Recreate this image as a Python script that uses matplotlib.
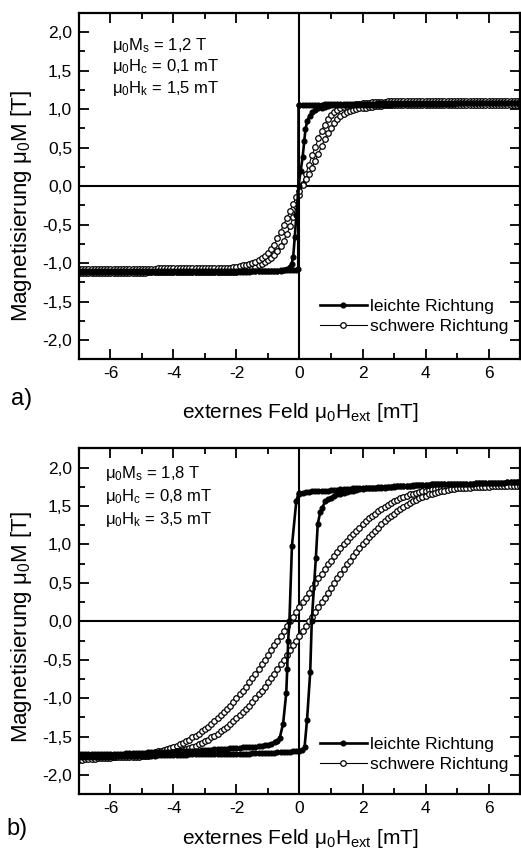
import numpy as np
import matplotlib
matplotlib.use('Agg')
import matplotlib.pyplot as plt
from matplotlib.ticker import MultipleLocator, FuncFormatter

plt.rcParams['font.family'] = ['Liberation Sans', 'DejaVu Sans']
plt.rcParams['mathtext.default'] = 'regular'

# field sweep [mT]
H = [-7.0, -6.9, -6.8, -6.7, -6.6, -6.5, -6.4, -6.3, -6.2, -6.1,
     -6.0, -5.9, -5.8, -5.7, -5.6, -5.5, -5.4, -5.3, -5.2, -5.1,
     -5.0, -4.9, -4.8, -4.7, -4.6, -4.5, -4.4, -4.3, -4.2, -4.1,
     -4.0, -3.9, -3.8, -3.7, -3.6, -3.5, -3.4, -3.3, -3.2, -3.1,
     -3.0, -2.9, -2.8, -2.7, -2.6, -2.5, -2.4, -2.3, -2.2, -2.1,
     -2.0, -1.9, -1.8, -1.7, -1.6, -1.5, -1.4, -1.3, -1.2, -1.1,
     -1.0, -0.9, -0.8, -0.7, -0.6, -0.5, -0.4, -0.3, -0.2, -0.1,
     0.0, 0.1, 0.2, 0.3, 0.4, 0.5, 0.6, 0.7, 0.8, 0.9,
     1.0, 1.1, 1.2, 1.3, 1.4, 1.5, 1.6, 1.7, 1.8, 1.9,
     2.0, 2.1, 2.2, 2.3, 2.4, 2.5, 2.6, 2.7, 2.8, 2.9,
     3.0, 3.1, 3.2, 3.3, 3.4, 3.5, 3.6, 3.7, 3.8, 3.9,
     4.0, 4.1, 4.2, 4.3, 4.4, 4.5, 4.6, 4.7, 4.8, 4.9,
     5.0, 5.1, 5.2, 5.3, 5.4, 5.5, 5.6, 5.7, 5.8, 5.9,
     6.0, 6.1, 6.2, 6.3, 6.4, 6.5, 6.6, 6.7, 6.8, 6.9,
     7.0]

# ---- a) hard direction, two branches on H
a_hard_1 = [-1.13, -1.13, -1.13, -1.13, -1.13, -1.13, -1.13, -1.13, -1.13, -1.13,
            -1.13, -1.13, -1.13, -1.13, -1.13, -1.13, -1.13, -1.13, -1.13, -1.13,
            -1.13, -1.13, -1.12, -1.12, -1.12, -1.12, -1.12, -1.12, -1.12, -1.12,
            -1.12, -1.12, -1.12, -1.12, -1.12, -1.12, -1.12, -1.12, -1.12, -1.12,
            -1.12, -1.12, -1.12, -1.12, -1.12, -1.12, -1.11, -1.11, -1.11, -1.11,
            -1.11, -1.10, -1.09, -1.08, -1.07, -1.06, -1.05, -1.03, -1.01, -0.99,
            -0.96, -0.93, -0.89, -0.84, -0.78, -0.71, -0.62, -0.52, -0.40, -0.26,
            -0.11, 0.03, 0.16, 0.28, 0.40, 0.51, 0.62, 0.72, 0.80, 0.87,
            0.92, 0.96, 0.99, 1.01, 1.03, 1.04, 1.05, 1.06, 1.07, 1.07,
            1.08, 1.08, 1.08, 1.09, 1.09, 1.09, 1.09, 1.09, 1.10, 1.10,
            1.10, 1.10, 1.10, 1.10, 1.10, 1.10, 1.10, 1.10, 1.10, 1.10,
            1.10, 1.10, 1.10, 1.10, 1.10, 1.10, 1.10, 1.10, 1.10, 1.10,
            1.10, 1.10, 1.11, 1.11, 1.11, 1.11, 1.11, 1.11, 1.11, 1.11,
            1.11, 1.11, 1.11, 1.11, 1.11, 1.11, 1.11, 1.11, 1.11, 1.11,
            1.11]
a_hard_2 = [-1.08, -1.08, -1.08, -1.08, -1.08, -1.08, -1.08, -1.08, -1.08, -1.08,
            -1.08, -1.08, -1.08, -1.08, -1.08, -1.08, -1.08, -1.08, -1.08, -1.08,
            -1.08, -1.08, -1.08, -1.08, -1.08, -1.07, -1.07, -1.07, -1.07, -1.07,
            -1.07, -1.07, -1.07, -1.07, -1.07, -1.07, -1.07, -1.07, -1.07, -1.07,
            -1.07, -1.07, -1.07, -1.07, -1.07, -1.07, -1.07, -1.06, -1.06, -1.05,
            -1.05, -1.04, -1.03, -1.02, -1.01, -1.00, -0.98, -0.96, -0.94, -0.91,
            -0.87, -0.82, -0.76, -0.68, -0.59, -0.50, -0.41, -0.32, -0.23, -0.14,
            -0.06, 0.02, 0.09, 0.16, 0.24, 0.33, 0.42, 0.52, 0.61, 0.69,
            0.76, 0.82, 0.87, 0.91, 0.94, 0.96, 0.98, 0.99, 1.00, 1.01,
            1.02, 1.02, 1.03, 1.03, 1.04, 1.04, 1.04, 1.05, 1.05, 1.05,
            1.05, 1.05, 1.05, 1.05, 1.05, 1.05, 1.05, 1.05, 1.05, 1.05,
            1.05, 1.05, 1.05, 1.05, 1.05, 1.06, 1.06, 1.06, 1.06, 1.06,
            1.06, 1.06, 1.06, 1.06, 1.06, 1.06, 1.06, 1.06, 1.06, 1.06,
            1.06, 1.06, 1.06, 1.06, 1.06, 1.06, 1.06, 1.06, 1.06, 1.06,
            1.06]

# ---- a) easy direction
a_easy_dn_x = H[0:70] + [-0.04, -0.03] + H[70:]
a_easy_dn_y = [-1.10, -1.10, -1.10, -1.10, -1.10, -1.10, -1.10, -1.10, -1.10, -1.10,
               -1.10, -1.10, -1.10, -1.10, -1.10, -1.10, -1.10, -1.10, -1.10, -1.10,
               -1.10, -1.10, -1.10, -1.10, -1.10, -1.10, -1.10, -1.10, -1.10, -1.10,
               -1.10, -1.10, -1.10, -1.10, -1.10, -1.10, -1.10, -1.10, -1.10, -1.10,
               -1.10, -1.10, -1.10, -1.10, -1.10, -1.10, -1.10, -1.10, -1.10, -1.10,
               -1.10, -1.10, -1.10, -1.10, -1.10, -1.10, -1.10, -1.10, -1.10, -1.10,
               -1.10, -1.10, -1.10, -1.10, -1.10, -1.09, -1.09, -1.09, -1.09, -1.09,
               -1.08, 1.05,
               1.06, 1.06, 1.06, 1.06, 1.06, 1.06, 1.06, 1.06, 1.07, 1.07,
               1.07, 1.07, 1.07, 1.07, 1.07, 1.07, 1.07, 1.07, 1.07, 1.07,
               1.07, 1.07, 1.07, 1.07, 1.07, 1.08, 1.08, 1.08, 1.08, 1.08,
               1.08, 1.08, 1.08, 1.08, 1.08, 1.08, 1.08, 1.08, 1.08, 1.08,
               1.08, 1.08, 1.08, 1.08, 1.08, 1.08, 1.08, 1.08, 1.08, 1.08,
               1.08, 1.08, 1.08, 1.08, 1.08, 1.08, 1.08, 1.08, 1.08, 1.08,
               1.08, 1.08, 1.08, 1.08, 1.08, 1.08, 1.08, 1.08, 1.08, 1.08,
               1.08]
a_easy_up_x = H[0:66] + [-0.4, -0.3, -0.25, -0.2, -0.15, -0.1, -0.03, 0.04, 0.1, 0.15,
                         0.19, 0.25, 0.32, 0.4, 0.5, 0.6, 0.7, 0.8, 0.9, 1.0] + H[81:]
a_easy_up_y = [-1.12, -1.12, -1.12, -1.12, -1.12, -1.12, -1.12, -1.12, -1.12, -1.12,
               -1.12, -1.12, -1.12, -1.12, -1.12, -1.12, -1.12, -1.12, -1.12, -1.12,
               -1.12, -1.12, -1.12, -1.12, -1.12, -1.11, -1.11, -1.11, -1.11, -1.11,
               -1.11, -1.11, -1.11, -1.11, -1.11, -1.11, -1.11, -1.11, -1.11, -1.11,
               -1.11, -1.11, -1.11, -1.11, -1.11, -1.11, -1.11, -1.11, -1.11, -1.11,
               -1.11, -1.11, -1.11, -1.11, -1.11, -1.10, -1.10, -1.10, -1.10, -1.10,
               -1.10, -1.10, -1.10, -1.10, -1.09, -1.09,
               -1.08, -1.05, -1.01, -0.92, -0.66, -0.38, 0.00, 0.20, 0.38, 0.58,
               0.74, 0.85, 0.91, 0.96, 0.99, 1.01, 1.02, 1.03, 1.04, 1.05,
               1.05, 1.05, 1.05, 1.05, 1.05, 1.05, 1.05, 1.05, 1.05,
               1.06, 1.06, 1.06, 1.06, 1.06, 1.06, 1.06, 1.06, 1.06, 1.06,
               1.07, 1.07, 1.07, 1.07, 1.07, 1.07, 1.07, 1.07, 1.07, 1.07,
               1.07, 1.07, 1.07, 1.07, 1.07, 1.07, 1.07, 1.07, 1.07, 1.07,
               1.08, 1.08, 1.08, 1.08, 1.08, 1.08, 1.08, 1.08, 1.08, 1.08,
               1.08, 1.08, 1.08, 1.08, 1.08, 1.08, 1.08, 1.08, 1.08, 1.08,
               1.08]

# ---- b) hard direction, descending / ascending branch on H
b_hard_dn = [-1.77, -1.77, -1.77, -1.77, -1.77, -1.76, -1.76, -1.76, -1.76, -1.76,
             -1.76, -1.76, -1.75, -1.75, -1.75, -1.75, -1.75, -1.74, -1.74, -1.73,
             -1.73, -1.72, -1.72, -1.71, -1.70, -1.69, -1.68, -1.67, -1.66, -1.65,
             -1.63, -1.62, -1.60, -1.58, -1.56, -1.54, -1.51, -1.49, -1.46, -1.43,
             -1.40, -1.37, -1.34, -1.30, -1.26, -1.22, -1.18, -1.14, -1.10, -1.05,
             -1.00, -0.95, -0.90, -0.85, -0.79, -0.74, -0.68, -0.62, -0.56, -0.50,
             -0.44, -0.37, -0.31, -0.25, -0.19, -0.12, -0.06, 0.00, 0.06, 0.12,
             0.19, 0.25, 0.31, 0.37, 0.44, 0.50, 0.56, 0.62, 0.68, 0.74,
             0.79, 0.85, 0.90, 0.95, 1.00, 1.05, 1.10, 1.14, 1.18, 1.22,
             1.26, 1.30, 1.34, 1.37, 1.40, 1.43, 1.46, 1.49, 1.51, 1.54,
             1.56, 1.58, 1.60, 1.62, 1.63, 1.65, 1.66, 1.67, 1.68, 1.69,
             1.70, 1.71, 1.72, 1.72, 1.73, 1.73, 1.74, 1.74, 1.75, 1.75,
             1.75, 1.76, 1.76, 1.76, 1.76, 1.77, 1.77, 1.77, 1.77, 1.77,
             1.78, 1.78, 1.78, 1.78, 1.78, 1.78, 1.79, 1.79, 1.79, 1.79,
             1.79]
b_hard_up = [-1.80, -1.80, -1.79, -1.79, -1.79, -1.79, -1.78, -1.78, -1.78, -1.78,
             -1.78, -1.77, -1.77, -1.77, -1.77, -1.77, -1.76, -1.76, -1.76, -1.76,
             -1.75, -1.75, -1.75, -1.74, -1.74, -1.73, -1.73, -1.72, -1.72, -1.71,
             -1.70, -1.69, -1.68, -1.67, -1.66, -1.65, -1.63, -1.62, -1.60, -1.58,
             -1.56, -1.54, -1.51, -1.49, -1.46, -1.43, -1.40, -1.37, -1.34, -1.30,
             -1.26, -1.22, -1.18, -1.14, -1.10, -1.05, -1.00, -0.95, -0.90, -0.85,
             -0.79, -0.74, -0.68, -0.62, -0.56, -0.50, -0.44, -0.37, -0.31, -0.25,
             -0.19, -0.12, -0.06, 0.00, 0.06, 0.12, 0.19, 0.25, 0.31, 0.37,
             0.44, 0.50, 0.56, 0.62, 0.68, 0.74, 0.79, 0.85, 0.90, 0.95,
             1.00, 1.05, 1.10, 1.14, 1.18, 1.22, 1.26, 1.30, 1.34, 1.37,
             1.40, 1.43, 1.46, 1.49, 1.51, 1.54, 1.56, 1.58, 1.60, 1.62,
             1.63, 1.65, 1.66, 1.67, 1.68, 1.69, 1.70, 1.71, 1.72, 1.72,
             1.73, 1.73, 1.74, 1.74, 1.74, 1.75, 1.75, 1.75, 1.75, 1.75,
             1.75, 1.76, 1.76, 1.76, 1.76, 1.76, 1.76, 1.76, 1.76, 1.76,
             1.76]

# ---- b) easy direction
b_easy_dn_x = H[0:60] + [-1.0, -0.9, -0.78, -0.7, -0.63, -0.52, -0.42, -0.39, -0.36,
                         -0.32, -0.24, -0.10, -0.03] + H[70:]
b_easy_dn_y = [-1.73, -1.73, -1.73, -1.73, -1.73, -1.72, -1.72, -1.72, -1.72, -1.72,
               -1.72, -1.72, -1.72, -1.72, -1.72, -1.71, -1.71, -1.71, -1.71, -1.71,
               -1.71, -1.71, -1.70, -1.70, -1.70, -1.70, -1.70, -1.70, -1.70, -1.70,
               -1.70, -1.69, -1.69, -1.69, -1.69, -1.68, -1.68, -1.68, -1.68, -1.67,
               -1.67, -1.67, -1.67, -1.66, -1.66, -1.66, -1.66, -1.66, -1.65, -1.65,
               -1.65, -1.65, -1.64, -1.64, -1.64, -1.63, -1.63, -1.62, -1.62, -1.61,
               -1.61, -1.59, -1.57, -1.55, -1.52, -1.33, -0.93, -0.62, -0.25,
               0.00, 0.98, 1.57, 1.66,
               1.67, 1.67, 1.68, 1.68, 1.69, 1.69, 1.69, 1.70, 1.70, 1.70,
               1.71, 1.71, 1.71, 1.72, 1.72, 1.72, 1.72, 1.73, 1.73, 1.73,
               1.73, 1.74, 1.74, 1.74, 1.74, 1.75, 1.75, 1.75, 1.75, 1.75,
               1.76, 1.76, 1.76, 1.76, 1.76, 1.76, 1.77, 1.77, 1.77, 1.77,
               1.77, 1.77, 1.78, 1.78, 1.78, 1.78, 1.78, 1.78, 1.79, 1.79,
               1.79, 1.79, 1.79, 1.79, 1.79, 1.79, 1.80, 1.80, 1.80, 1.80,
               1.80, 1.80, 1.80, 1.80, 1.80, 1.80, 1.81, 1.81, 1.81, 1.81,
               1.82]
b_easy_up_x = H[0:71] + [0.08, 0.16, 0.24, 0.34, 0.39, 0.52, 0.58, 0.66, 0.73, 0.81,
                         0.9, 1.0, 1.1, 1.2, 1.3, 1.4, 1.5, 1.6, 1.7, 1.8, 1.9, 2.0] + H[91:]
b_easy_up_y = [-1.76, -1.76, -1.76, -1.76, -1.76, -1.76, -1.76, -1.76, -1.76, -1.76,
               -1.76, -1.76, -1.75, -1.75, -1.75, -1.75, -1.75, -1.75, -1.75, -1.75,
               -1.75, -1.75, -1.75, -1.75, -1.75, -1.74, -1.74, -1.74, -1.74, -1.74,
               -1.74, -1.74, -1.74, -1.74, -1.74, -1.73, -1.73, -1.73, -1.73, -1.73,
               -1.73, -1.73, -1.73, -1.73, -1.73, -1.72, -1.72, -1.72, -1.72, -1.72,
               -1.72, -1.72, -1.72, -1.72, -1.72, -1.71, -1.71, -1.71, -1.71, -1.71,
               -1.71, -1.71, -1.71, -1.70, -1.70, -1.70, -1.70, -1.70, -1.69, -1.69,
               -1.69,
               -1.67, -1.64, -1.28, -0.66, 0.01, 0.83, 1.27, 1.42, 1.48, 1.56,
               1.59, 1.61, 1.63, 1.65, 1.66, 1.67, 1.68, 1.69, 1.70, 1.71, 1.72, 1.72,
               1.73, 1.73, 1.73, 1.74, 1.74, 1.74, 1.74, 1.75, 1.75,
               1.75, 1.76, 1.76, 1.76, 1.76, 1.76, 1.76, 1.77, 1.77, 1.77,
               1.77, 1.77, 1.78, 1.78, 1.78, 1.78, 1.78, 1.78, 1.79, 1.79,
               1.79, 1.79, 1.79, 1.79, 1.79, 1.79, 1.80, 1.80, 1.80, 1.80,
               1.80, 1.80, 1.80, 1.80, 1.80, 1.80, 1.81, 1.81, 1.81, 1.81,
               1.81]

notes_a = ['μ$_0$M$_s$ = 1,2 T', 'μ$_0$H$_c$ = 0,1 mT', 'μ$_0$H$_k$ = 1,5 mT']
notes_b = ['μ$_0$M$_s$ = 1,8 T', 'μ$_0$H$_c$ = 0,8 mT', 'μ$_0$H$_k$ = 3,5 mT']


def comma(v, pos):
    return f'{v:.1f}'.replace('.', ',')


def style_axes(ax):
    ax.set_xlim(-7, 7)
    ax.set_ylim(-2.25, 2.25)
    ax.xaxis.set_major_locator(MultipleLocator(2))
    ax.xaxis.set_minor_locator(MultipleLocator(1))
    ax.yaxis.set_major_locator(MultipleLocator(0.5))
    ax.yaxis.set_minor_locator(MultipleLocator(0.25))
    ax.yaxis.set_major_formatter(FuncFormatter(comma))
    ax.xaxis.set_major_formatter(FuncFormatter(lambda v, p: f'{v:.0f}'))
    ax.tick_params(which='both', direction='in', top=True, right=True,
                   labelsize=12.5, width=1.3, colors='k')
    ax.tick_params(which='major', length=7, pad=5)
    ax.tick_params(which='minor', length=4)
    for s in ax.spines.values():
        s.set_linewidth(1.6)
    ax.axhline(0, color='k', lw=1.5, zorder=1)
    ax.axvline(0, color='k', lw=1.5, zorder=1)


def draw(ax, hard, easy):
    for i, yy in enumerate(hard):
        ax.plot(H, yy, '-', color='k', lw=0.8, marker='o', ms=4.0,
                mfc='white', mec='k', mew=0.9, zorder=2,
                label='schwere Richtung' if i == 0 else '_nolegend_')
    for i, (xx, yy) in enumerate(easy):
        ax.plot(xx, yy, '-', color='k', lw=1.9, marker='o', ms=3.4,
                mfc='k', mec='k', zorder=3,
                label='leichte Richtung' if i == 0 else '_nolegend_')


fig = plt.figure(figsize=(5.21, 8.49), dpi=100)
ax1 = fig.add_axes([0.1516, 0.5768, 0.8465, 0.408])
ax2 = fig.add_axes([0.1516, 0.0644, 0.8465, 0.4075])

draw(ax1, [a_hard_1, a_hard_2], [(a_easy_dn_x, a_easy_dn_y), (a_easy_up_x, a_easy_up_y)])
draw(ax2, [b_hard_dn, b_hard_up], [(b_easy_dn_x, b_easy_dn_y), (b_easy_up_x, b_easy_up_y)])

for ax, notes, nx, ny, ly in [(ax1, notes_a, 0.075, [0.907, 0.845, 0.782], 0.123),
                              (ax2, notes_b, 0.059, [0.928, 0.860, 0.793], 0.115)]:
    style_axes(ax)
    for t, yv in zip(notes, ny):
        ax.text(nx, yv, t, transform=ax.transAxes, fontsize=12, va='center', ha='left')
    h, l = ax.get_legend_handles_labels()
    order = [l.index('leichte Richtung'), l.index('schwere Richtung')]
    ax.legend([h[i] for i in order], [l[i] for i in order], loc='center left',
              bbox_to_anchor=(0.546, ly), frameon=False, fontsize=12.5, numpoints=1,
              handlelength=2.7, handletextpad=0.2, borderpad=0, borderaxespad=0,
              labelspacing=0.3)

fig.text(0.042, 0.757, 'Magnetisierung μ$_0$M [T]', rotation=90, ha='center', va='center', fontsize=16)
fig.text(0.042, 0.261, 'Magnetisierung μ$_0$M [T]', rotation=90, ha='center', va='center', fontsize=16)
fig.text(0.577, 0.5147, 'externes Feld μ$_0$H$_{ext}$ [mT]', ha='center', va='center', fontsize=15)
fig.text(0.577, 0.0118, 'externes Feld μ$_0$H$_{ext}$ [mT]', ha='center', va='center', fontsize=15)
fig.text(0.042, 0.530, 'a)', ha='center', va='center', fontsize=17)
fig.text(0.033, 0.0236, 'b)', ha='center', va='center', fontsize=17)

fig.savefig('out.png', dpi=100)
